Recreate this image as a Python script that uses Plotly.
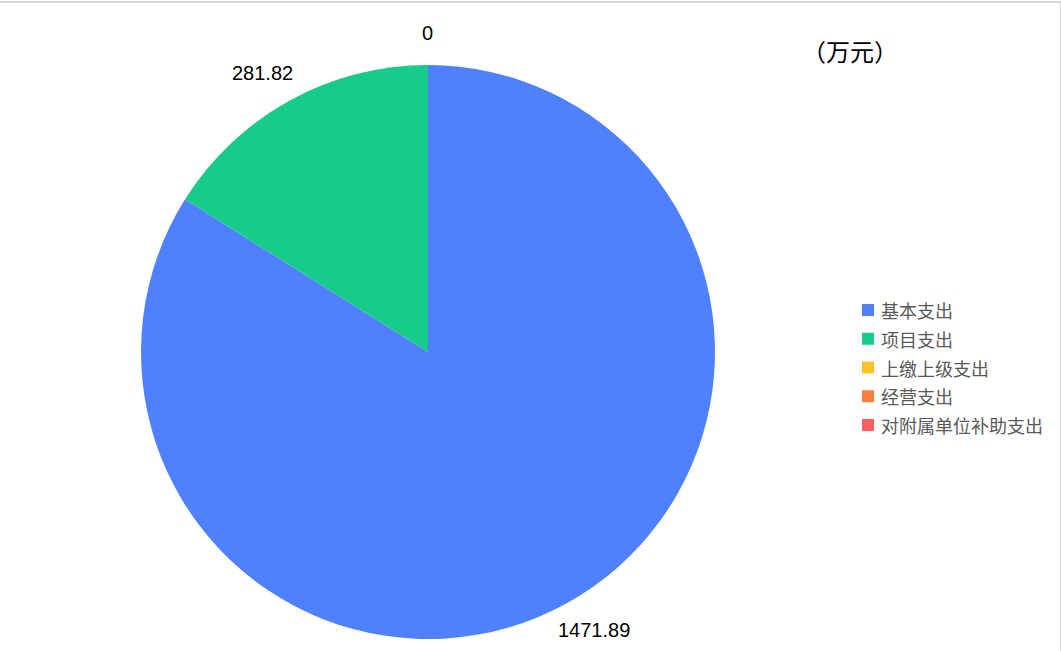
import math
import plotly.graph_objects as go

categories = ["基本支出", "项目支出", "上缴上级支出", "经营支出", "对附属单位补助支出"]
values = [1471.89, 281.82, 0, 0, 0]
value_labels = ["1471.89", "281.82", "0", "0", "0"]
colors = ["#4F81FF", "#17CB89", "#FFC325", "#FF7D3D", "#FF5E5E"]
unit_text = "（万元）"

W, H = 1061, 651
ML, MR, MT, MB = 0, 0, 65, 12
PW, PH = W - ML - MR, H - MT - MB
cx_px, cy_px = 428, 351.5
radius = PH / 2


def px_to_paper(px, py):
    return (px - ML) / PW, (H - MB - py) / PH


fig = go.Figure()
fig.add_trace(go.Pie(
    labels=categories,
    values=values,
    marker=dict(colors=colors, line=dict(width=0)),
    sort=False,
    direction="clockwise",
    rotation=0,
    textinfo="none",
    hoverinfo="label+value",
    domain=dict(x=[cx_px / W - 0.28, cx_px / W + 0.28], y=[0, 1]),
    showlegend=False,
))

annotations = []
shapes = []

# value labels placed outside the slices at their mid angles
total = sum(values)
cum = 0
seen = set()
for v, t in zip(values, value_labels):
    mid = (cum + v / 2) / total
    cum += v
    ang = 2 * math.pi * mid
    px = cx_px + (radius + 56) * math.sin(ang)
    py = cy_px - (radius + 31) * math.cos(ang)
    key = (t, round(px), round(py))
    if key in seen:
        continue
    seen.add(key)
    x, y = px_to_paper(px, py)
    annotations.append(dict(
        x=x, y=y, xref="paper", yref="paper",
        text=t, showarrow=False, xanchor="center", yanchor="middle",
        font=dict(family="Liberation Sans, Arial", size=20, color="#000000"),
    ))

# unit text
x, y = px_to_paper(850, 51)
annotations.append(dict(
    x=x, y=y, xref="paper", yref="paper",
    text=unit_text, showarrow=False, xanchor="center", yanchor="middle",
    font=dict(family="Noto Sans CJK SC", size=24, color="#000000"),
))

# legend (square swatches + labels)
leg_x, leg_y0, leg_step, sq = 862, 310, 28.75, 12
for i, (name, c) in enumerate(zip(categories, colors)):
    yc = leg_y0 + i * leg_step
    x0, y0 = px_to_paper(leg_x, yc + sq / 2)
    x1, y1 = px_to_paper(leg_x + sq, yc - sq / 2)
    shapes.append(dict(type="rect", xref="paper", yref="paper",
                       x0=x0, x1=x1, y0=y0, y1=y1,
                       fillcolor=c, line=dict(width=0)))
    tx, ty = px_to_paper(879, yc)
    annotations.append(dict(
        x=tx, y=ty, xref="paper", yref="paper",
        text=name, showarrow=False, xanchor="left", yanchor="middle",
        font=dict(family="Noto Sans CJK SC", size=18, color="#595959"),
    ))

# sheet frame lines (top band, right edge)
_, ytop = px_to_paper(0, 2)
shapes.append(dict(type="line", xref="paper", yref="paper",
                   x0=0, x1=1, y0=ytop, y1=ytop,
                   line=dict(color="#D6D6D6", width=2)))
xr, _ = px_to_paper(1060.5, 0)
_, yb0 = px_to_paper(0, 651)
_, yb1 = px_to_paper(0, 1)
shapes.append(dict(type="line", xref="paper", yref="paper",
                   x0=xr, x1=xr, y0=yb0, y1=yb1,
                   line=dict(color="#D6D6D6", width=1)))

fig.update_layout(
    width=W, height=H,
    margin=dict(l=ML, r=MR, t=MT, b=MB),
    paper_bgcolor="#ffffff",
    plot_bgcolor="#ffffff",
    showlegend=False,
    annotations=annotations,
    shapes=shapes,
)

fig.write_html(
    "out.html",
    config={"displayModeBar": False},
    post_script="document.body.style.margin='0';document.body.style.overflow='hidden';",
)
